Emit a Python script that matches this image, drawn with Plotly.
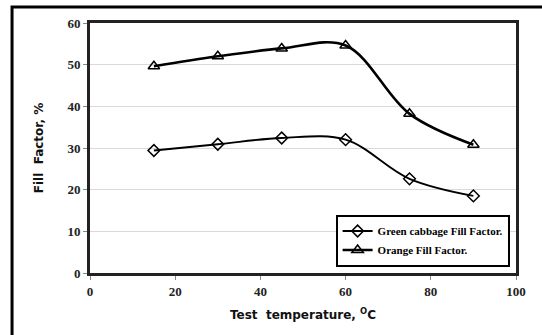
import plotly.graph_objects as go

temperature = [15, 30, 45, 60, 75, 90]
green_cabbage_ff = [29.4, 30.9, 32.4, 32.0, 22.6, 18.5]
orange_ff = [49.6, 52.0, 53.9, 54.6, 38.2, 30.8]

x_ticks = [0, 20, 40, 60, 80, 100]
y_ticks = [0, 10, 20, 30, 40, 50, 60]

fig = go.Figure()
fig.add_trace(go.Scatter(
    x=temperature, y=green_cabbage_ff, mode="lines+markers",
    name="Green cabbage Fill Factor.",
    line=dict(color="black", width=1.8, shape="spline", smoothing=1.0),
    marker=dict(symbol="diamond-open", size=9, color="black", line=dict(width=1.5)),
))
fig.add_trace(go.Scatter(
    x=temperature, y=orange_ff, mode="lines+markers",
    name="Orange Fill Factor.",
    line=dict(color="black", width=2.6, shape="spline", smoothing=1.0),
    marker=dict(symbol="triangle-up-open", size=10, color="black", line=dict(width=1.5)),
))

tick_font = dict(family="Liberation Serif", size=13, color="#222", weight="bold")
title_font = dict(family="DejaVu Sans", size=12, color="#111", weight="bold")

fig.update_layout(
    width=542, height=335,
    margin=dict(l=90, r=26, t=23, b=62),
    paper_bgcolor="white", plot_bgcolor="white",
    showlegend=True,
    legend=dict(
        x=0.985, y=0.234, xanchor="right", yanchor="top",
        bgcolor="white", bordercolor="black", borderwidth=2,
        font=dict(family="Liberation Serif", size=11, color="black", weight="bold"),
        tracegroupgap=0, itemwidth=30,
    ),
    xaxis=dict(
        range=[0, 100], tickvals=x_ticks, ticktext=[str(v) for v in x_ticks],
        showgrid=False, zeroline=False, automargin=False,
        showline=True, linecolor="#222", linewidth=3, mirror=True,
        ticks="outside", ticklen=4, tickcolor="#888", tickwidth=1,
        tickfont=tick_font,
        title=dict(text="Test  temperature, <sup>O</sup>C", font=title_font, standoff=14),
    ),
    yaxis=dict(
        range=[0, 60], tickvals=y_ticks, ticktext=[str(v) for v in y_ticks],
        showgrid=True, gridcolor="#d9d9d9", gridwidth=1, zeroline=False, automargin=False,
        showline=True, linecolor="#222", linewidth=3, mirror=True,
        ticks="outside", ticklen=4, tickcolor="#888", tickwidth=1,
        tickfont=tick_font,
        title=dict(text="Fill  Factor, %", font=title_font, standoff=22),
    ),
)

# outer chart frame (left and top edges visible)
fig.add_shape(type="rect", xref="paper", yref="paper",
              x0=-0.183, x1=1.2, y0=-0.4, y1=1.064,
              line=dict(color="black", width=3), fillcolor="rgba(0,0,0,0)", layer="below")

fig.write_html("out.html", config={"displayModeBar": False},
               post_script="document.body.style.margin='0';")
